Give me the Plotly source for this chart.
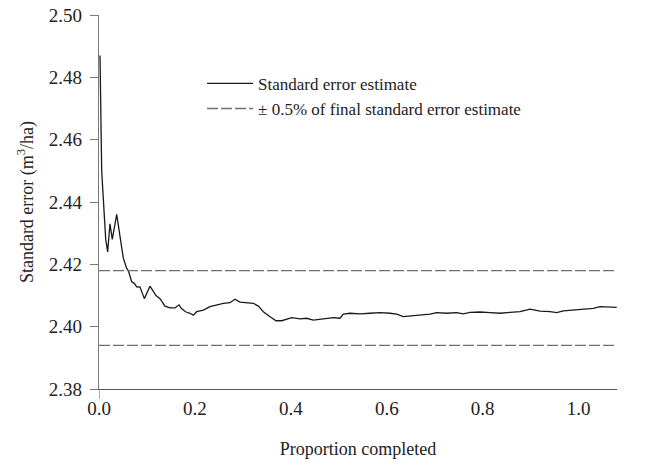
import plotly.graph_objects as go

# Curve (x in axis units, value in m3/ha)
prop = [0.0021, 0.0042, 0.0056, 0.0090, 0.0140, 0.0181, 0.0229, 0.0277, 0.0369, 0.0438,
        0.0507, 0.0578, 0.0611, 0.0682, 0.0736, 0.0786, 0.0855, 0.0945, 0.1063, 0.1188,
        0.1272, 0.1376, 0.1480, 0.1585, 0.1668, 0.1724, 0.1814, 0.1897, 0.1966, 0.2037,
        0.2175, 0.2314, 0.2454, 0.2592, 0.2731, 0.2836, 0.2940, 0.3080, 0.3218, 0.3323,
        0.3426, 0.3566, 0.3691, 0.3809, 0.3914, 0.4018, 0.4191, 0.4331, 0.4468, 0.4608,
        0.4748, 0.4885, 0.5025, 0.5094, 0.5234, 0.5442, 0.5651, 0.5859, 0.6068, 0.6207,
        0.6345, 0.6485, 0.6693, 0.6902, 0.7041, 0.7250, 0.7458, 0.7596, 0.7736, 0.7944,
        0.8153, 0.8361, 0.8570, 0.8778, 0.8987, 0.9195, 0.9404, 0.9543, 0.9681, 0.9890,
        1.0098, 1.0307, 1.0446, 1.0655, 1.0794]
se = [2.487, 2.470, 2.450, 2.441, 2.428, 2.424, 2.433, 2.428, 2.436, 2.429,
      2.422, 2.4187, 2.418, 2.4144, 2.4139, 2.4128, 2.4127, 2.409, 2.413, 2.410,
      2.409, 2.4066, 2.406, 2.406, 2.407, 2.4057, 2.4047, 2.4043, 2.4037, 2.4048,
      2.4053, 2.4064, 2.4070, 2.4075, 2.4077, 2.4088, 2.4079, 2.4077, 2.4075, 2.4066,
      2.4048, 2.4032, 2.4019, 2.4019, 2.4024, 2.4029, 2.4025, 2.4027, 2.4021, 2.4024,
      2.4027, 2.4029, 2.4027, 2.4040, 2.4043, 2.4041, 2.4043, 2.4045, 2.4043, 2.4040,
      2.4032, 2.4034, 2.4035, 2.4040, 2.4045, 2.4043, 2.4045, 2.4041, 2.4046, 2.4047,
      2.4045, 2.4043, 2.4046, 2.4048, 2.4056, 2.4050, 2.4048, 2.4045, 2.4051, 2.4053,
      2.4056, 2.4059, 2.4064, 2.4064, 2.4062]

band_x = [0.0, 1.08]
band_upper = [2.418, 2.418]
band_lower = [2.394, 2.394]

x_ticks = [0.0, 0.2, 0.4, 0.6, 0.8, 1.0]
x_ticktext = ["0.0", "0.2", "0.4", "0.6", "0.8", "1.0"]
y_ticks = [2.38, 2.40, 2.42, 2.44, 2.46, 2.48, 2.50]
y_ticktext = ["2.38", "2.40", "2.42", "2.44", "2.46", "2.48", "2.50"]

FONT = "Liberation Serif"

fig = go.Figure()
fig.add_trace(go.Scatter(x=prop, y=se, mode="lines", name="Standard error estimate",
                         line=dict(color="#1a1a1a", width=1.3)))
fig.add_trace(go.Scatter(x=band_x, y=band_upper, mode="lines",
                         name="\u00b1 0.5% of final standard error estimate",
                         legendgroup="band",
                         line=dict(color="#6e6e6e", width=1.3, dash="11px,3px")))
fig.add_trace(go.Scatter(x=band_x, y=band_lower, mode="lines", showlegend=False,
                         legendgroup="band",
                         line=dict(color="#6e6e6e", width=1.3, dash="11px,3px")))

fig.update_layout(
    width=645, height=471,
    margin=dict(l=99, r=28, t=15, b=82, autoexpand=False),
    paper_bgcolor="white", plot_bgcolor="white",
    font=dict(family=FONT, color="#222", size=18),
    showlegend=True,
    legend=dict(x=0.199, y=0.864, xanchor="left", yanchor="top",
                bgcolor="rgba(0,0,0,0)", font=dict(family=FONT, size=17, color="#222"),
                tracegroupgap=0, itemwidth=46),
    xaxis=dict(range=[0, 1.08], tickvals=x_ticks, ticktext=x_ticktext, automargin=False,
               showgrid=False, zeroline=False, showline=True, linecolor="#555",
               linewidth=1.2, ticks="", ticklabelstandoff=2, ticklabeloverflow="allow",
               tickfont=dict(family=FONT, size=19, color="#222"),
               title=dict(text="Proportion completed", standoff=24,
                          font=dict(family=FONT, size=18, color="#222"))),
    yaxis=dict(range=[2.38, 2.50], tickvals=y_ticks, ticktext=y_ticktext, automargin=False,
               showgrid=False, zeroline=False, showline=True, linecolor="#777",
               linewidth=1.2, ticks="outside", ticklen=8, tickcolor="#777",
               tickwidth=1, ticklabelstandoff=4, ticklabeloverflow="allow",
               tickfont=dict(family=FONT, size=19, color="#222"),
               title=dict(text="Standard error (m<sup>3</sup>/ha)", standoff=10,
                          font=dict(family=FONT, size=18, color="#222"))),
)

# slight downward extension of the y-axis line below the x-axis, as in the reference
fig.add_shape(type="line", xref="x", yref="paper", x0=0, x1=0, y0=-0.027, y1=0,
              line=dict(color="#777", width=1.2))

# remove the default 8px page margin so the 645x471 figure fills the window exactly
fig.write_html("out.html", config={"displayModeBar": False},
               post_script="document.body.style.margin='0';")
